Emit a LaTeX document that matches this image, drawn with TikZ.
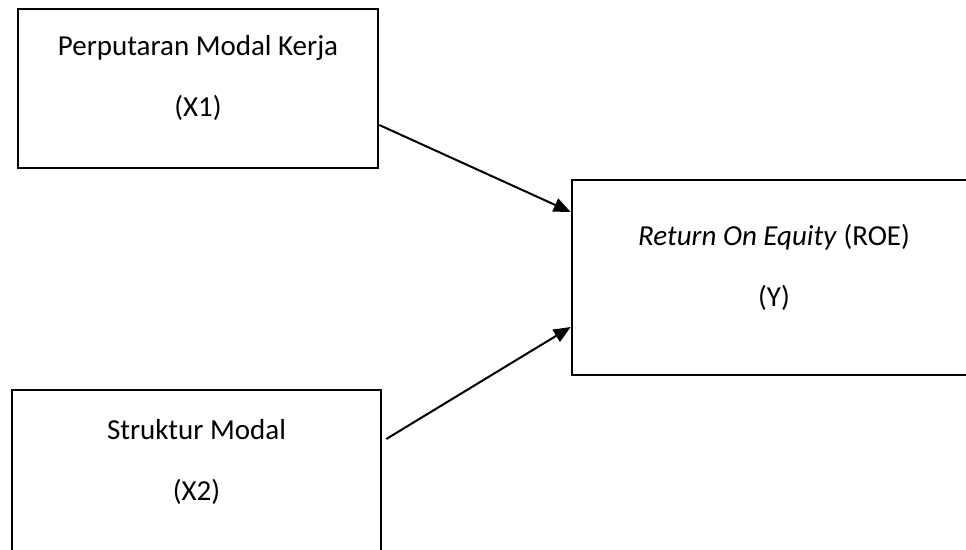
\documentclass[tikz,border=0pt]{standalone}
\usepackage{fontspec}
\setmainfont{Carlito}
\usetikzlibrary{arrows.meta}

\begin{document}
\begin{tikzpicture}[x=1pt, y=1pt,
  varbox/.style = {draw, line width=2.6pt, align=center, inner sep=0pt,
    text depth=25pt, font=\fontsize{29}{61}\selectfont},
  link/.style = {line width=2pt, -{Triangle[length=17pt,width=14pt]}}]
\clip (0,0) rectangle (966,-549);
\node [varbox, minimum width=360, minimum height=159] (x1) at (198,-88.5) {Perputaran Modal Kerja\\(X1)};
\node [varbox, minimum width=404, minimum height=195] (roe) at (774,-277.5) {\textit{Return On Equity} (ROE)\\(Y)};
\node [varbox, minimum width=369, minimum height=165] (x2) at (196.5,-472.5) {Struktur Modal\\(X2)};
\draw [link] ([yshift=-36.5]x1.east) -- ([yshift=65.5]roe.west);
\draw [link] ([xshift=4,yshift=33.5]x2.east) -- ([yshift=-49.5]roe.west);
\end{tikzpicture}
\end{document}
